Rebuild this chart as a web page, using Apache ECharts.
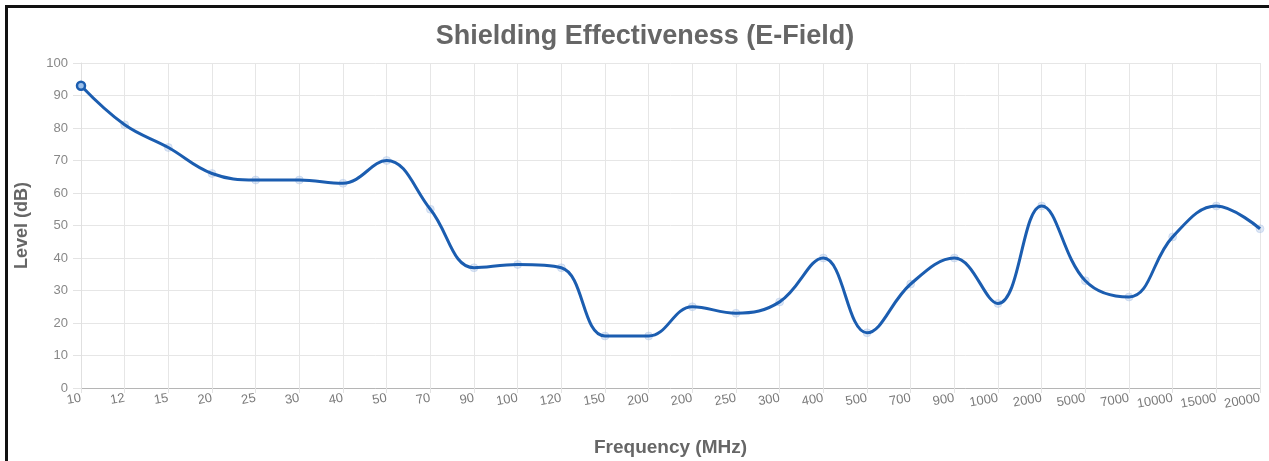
<!DOCTYPE html>
<html>
<head>
<meta charset="utf-8">
<script src="https://cdn.jsdelivr.net/npm/echarts@6/dist/echarts.min.js"></script>
<style>
html,body{margin:0;padding:0;background:#fff;}
#frame{position:absolute;left:5px;top:5px;width:1264px;height:456px;border-left:3px solid #111;border-top:3px solid #111;box-sizing:border-box;}
#chart{position:absolute;left:0;top:0;width:1269px;height:461px;}
</style>
</head>
<body>
<div id="frame"></div>
<div id="chart"></div>
<script>
const categories = ['10','12','15','20','25','30','40','50','70','90','100','120','150','200','200','250','300','400','500','700','900','1000','2000','5000','7000','10000','15000','20000'];
const levels = [93,81,74,66,64,64,63,70,55,37,38,37,16,16,25,23,26.5,40,17,32,40,26,56,33,28,46.5,56,49];
const yTicks = [0,10,20,30,40,50,60,70,80,90,100];

const chart = echarts.init(document.getElementById('chart'), null, {renderer:'canvas'});
const font = '"Liberation Sans", Arial, Helvetica, sans-serif';
const lineColor = '#1b5db0';
chart.setOption({
  animation:false,
  backgroundColor:'transparent',
  title:{
    text:'Shielding Effectiveness (E-Field)',
    left:640, top:18, textAlign:'center',
    textStyle:{fontFamily:font,fontSize:27,fontWeight:'bold',color:'#666'}
  },
  grid:{left:81,right:9,top:63,bottom:73,containLabel:false,outerBoundsMode:'none'},
  xAxis:{
    type:'category',
    data:categories,
    boundaryGap:false,
    name:'Frequency (MHz)',
    nameLocation:'middle',
    nameGap:50,
    nameTextStyle:{fontFamily:font,fontSize:19,fontWeight:'bold',color:'#666'},
    axisLine:{show:true,lineStyle:{color:'#b5b5b5',width:1}},
    axisTick:{show:true,alignWithLabel:true,length:5,lineStyle:{color:'#e3e3e3'}},
    axisLabel:{interval:0,rotate:10,fontFamily:font,fontSize:13,color:'#7a7a7a',margin:10},
    splitLine:{show:true,lineStyle:{color:'#e6e6e6',width:1}}
  },
  yAxis:{
    type:'value',
    min:0,max:100,interval:10,
    name:'Level (dB)',
    nameLocation:'middle',
    nameGap:50,
    nameRotate:90,
    nameTextStyle:{fontFamily:font,fontSize:18,fontWeight:'bold',color:'#666'},
    axisLine:{show:true,lineStyle:{color:'#e0e0e0'}},
    axisTick:{show:true,length:8,lineStyle:{color:'#e3e3e3'}},
    axisLabel:{fontFamily:font,fontSize:13,color:'#888',margin:13,
      formatter:function(v){return yTicks.indexOf(v)>=0?String(v):'';}},
    splitLine:{show:true,lineStyle:{color:'#e6e6e6',width:1}}
  },
  series:[
    {
      type:'line',
      data:levels,
      smooth:0.4,
      z:1,
      symbol:'circle',
      symbolSize:8,
      lineStyle:{opacity:0},
      itemStyle:{color:'rgba(170,195,230,0.4)',borderColor:'rgba(150,180,225,0.3)',borderWidth:1},
      silent:true
    },
    {
      type:'line',
      data:levels.map((v,i)=> i===0 ? {value:v,symbol:'circle',symbolSize:8,itemStyle:{color:'#9cc0ea',borderColor:lineColor,borderWidth:2.5}} : {value:v,symbol:'none'}),
      smooth:0.4,
      z:3,
      showSymbol:true,
      lineStyle:{color:lineColor,width:3},
      itemStyle:{color:lineColor}
    }
  ]
});
</script>
</body>
</html>
